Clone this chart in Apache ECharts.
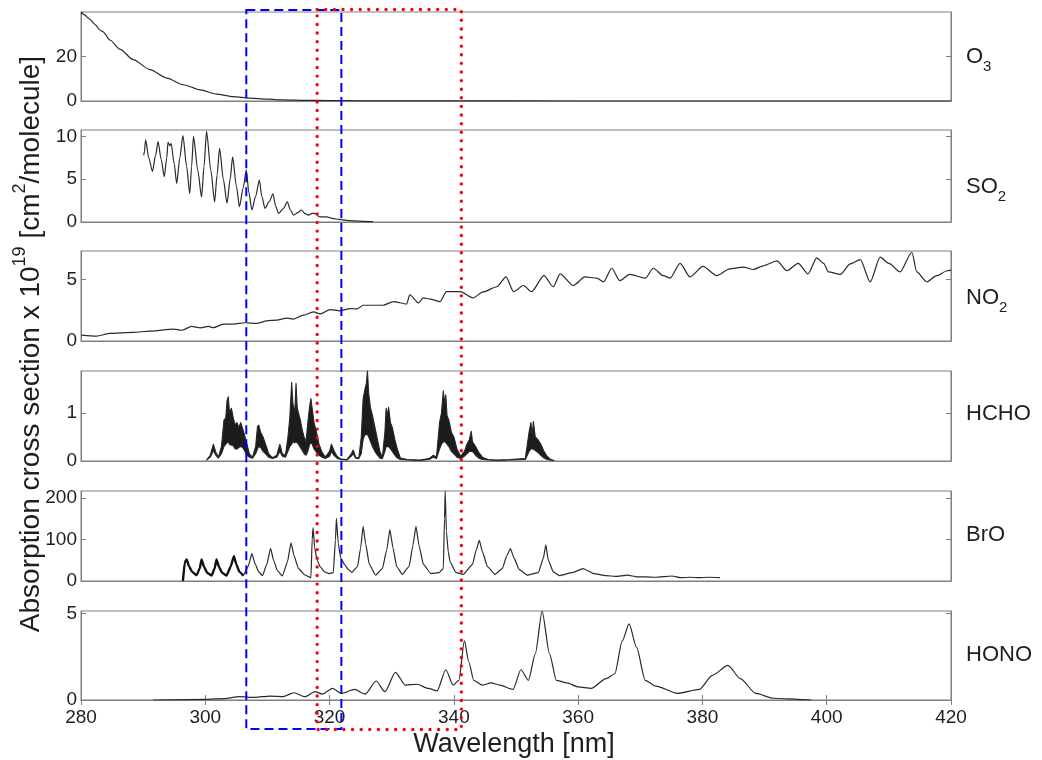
<!DOCTYPE html>
<html><head><meta charset="utf-8">
<script src="https://cdn.jsdelivr.net/npm/echarts@6/dist/echarts.min.js"></script>
<style>html,body{margin:0;padding:0;background:#fff}#c{width:1042px;height:760px}</style>
</head><body><div id="c"></div>
<script>
// ---------------- data ----------------
const xTicks = [280, 300, 320, 340, 360, 380, 400, 420];
const speciesLabels = ['O{sub|3}', 'SO{sub|2}', 'NO{sub|2}', 'HCHO', 'BrO', 'HONO'];
const yTickValues = [[0, 20], [0, 5, 10], [0, 5], [0, 1], [0, 100, 200], [0, 5]];
const yMax = [40, 10.75, 7.3, 1.875, 217, 5.15];
const blueBox = [306.6, 321.9];
const redBox = [318.0, 341.2];

const o3 = [[280,40],[280.5,38.8],[281.4,36.8],[282.2,34.5],[283.1,31.8],[283.5,31.2],[284.7,27.3],[286.3,23.2],[288.4,18.6],[291.1,14.1],[293.8,10.3],[296.5,7.3],[299.2,5.0],[301.8,3.1],[304.5,2.0],[307.2,1.3],[310,0.8],[312.5,0.5],[316,0.3],[320,0.18],[325,0.1],[330,0.06],[340,0.03],[360,0.01],[380,0.005],[420,0.003]];

const so2 = [[290.1,7.8],[290.2,8.2],[290.4,9.6],[290.9,7.5],[291.5,5.9],[292.0,7.8],[292.4,9.4],[292.9,7.3],[293.4,5.3],[293.8,7.5],[294.0,9.3],[294.3,8.9],[294.5,9.2],[295.0,6.8],[295.4,4.5],[295.9,7.5],[296.4,10.1],[297.0,6.5],[297.5,3.3],[297.8,6.5],[298.1,10.0],[298.8,6.0],[299.4,2.9],[299.8,6.5],[300.2,10.6],[300.9,6.0],[301.5,2.35],[301.9,5.5],[302.3,8.6],[302.9,5.0],[303.5,2.2],[304.0,5.0],[304.4,7.6],[305.0,4.2],[305.5,1.8],[306.1,4.0],[306.6,6.1],[307.0,3.5],[307.5,1.4],[308.1,3.0],[308.7,4.9],[309.1,3.0],[309.6,1.6],[310.3,2.4],[310.9,3.3],[311.3,1.9],[311.8,1.0],[312.6,1.6],[313.2,2.35],[313.7,1.4],[314.2,0.8],[314.9,1.1],[315.5,1.4],[316.0,1.0],[316.6,0.8],[317.2,1.0],[317.6,1.0],[318.4,0.6],[319.5,0.6],[320.6,0.4],[321.6,0.3],[322.7,0.2],[324,0.12],[325.5,0.08],[327,0.05]];

const no2 = [[280.1,0.48],[282.5,0.40],[284.7,0.62],[288.4,0.70],[291.1,0.80],[294.9,0.97],[296.2,0.87],[297.8,1.18],[299.2,1.07],[300.5,1.18],[301.3,1.08],[302.9,1.37],[304.5,1.37],[306.4,1.48],[308.3,1.43],[309.9,1.64],[311.5,1.69],[313.1,1.85],[314.2,1.78],[315.8,2.1],[317.4,2.37],[318.5,2.2],[320.1,2.55],[321.7,2.45],[323.3,2.63],[324.4,2.6],[325.4,2.9],[328.6,2.9],[330.3,3.2],[332.4,3.0],[332.9,3.75],[334.3,3.1],[335.1,3.5],[336.2,3.4],[337.8,3.2],[338.8,4.0],[341.0,4.0],[343.1,3.5],[344.7,3.98],[346.9,4.4],[348.4,5.2],[349.6,4.0],[351.2,4.5],[352.5,4.0],[354.5,5.3],[356.0,4.4],[357.1,5.45],[359.2,4.5],[361.1,5.2],[363.0,5.1],[364.1,4.8],[365.4,5.9],[366.7,4.9],[368.3,5.4],[370.8,5.1],[372.1,5.9],[373.7,5.3],[374.8,5.1],[376.4,6.3],[378.0,5.2],[380.1,6.05],[382.3,5.3],[384.4,5.85],[386.6,6.0],[388.2,5.8],[389.8,6.1],[392.0,6.5],[393.6,5.7],[395.4,6.3],[397.0,5.45],[398.4,6.75],[399.5,6.3],[400.3,5.6],[402.2,5.4],[403.8,6.25],[405.4,6.6],[407.0,4.8],[408.6,6.8],[410.0,6.3],[411.8,5.6],[413.7,7.2],[414.5,5.6],[416.1,4.8],[417.7,5.3],[419.4,5.7],[420,5.75]];

const hchoWl   = [300.2,300.8,301.3,301.7,302.1,302.6,303.0,303.3,303.5,303.7,303.9,304.2,304.5,304.8,305.1,305.4,305.7,306.0,306.3,306.7,307.1,307.6,308.1,308.4,308.6,308.9,309.3,309.7,310.2,310.8,311.5,312.0,312.4,312.9,313.3,313.6,313.9,314.1,314.4,314.6,314.8,315.0,315.3,315.6,315.9,316.2,316.5,316.8,317.0,317.2,317.5,317.9,318.3,318.8,319.3,320.0,320.3,320.7,321.2,321.8,322.8,323.5,323.8,324.2,324.7,325.1,325.4,325.7,325.9,326.1,326.3,326.6,326.9,327.3,327.7,328.1,328.5,328.9,329.1,329.3,329.5,329.8,330.1,330.5,330.9,331.4,332.5,334.5,336.0,336.7,337.2,337.7,338.0,338.3,338.5,338.7,338.9,339.2,339.6,340.0,340.5,341.1,341.7,342.1,342.5,342.8,343.0,343.5,344.0,344.6,345.5,347,349,351.5,352.1,352.4,352.6,352.8,353.1,353.5,354.0,354.5,355.0,355.5,356.1];
const hchoLow  = [0.02,0.08,0.22,0.12,0.06,0.15,0.3,0.35,0.38,0.4,0.35,0.33,0.32,0.25,0.25,0.28,0.3,0.28,0.22,0.12,0.08,0.06,0.15,0.25,0.3,0.28,0.2,0.15,0.08,0.05,0.08,0.2,0.1,0.08,0.2,0.3,0.35,0.4,0.38,0.4,0.38,0.35,0.28,0.22,0.15,0.12,0.2,0.35,0.38,0.35,0.25,0.18,0.12,0.08,0.05,0.1,0.2,0.12,0.06,0.03,0.02,0.1,0.15,0.06,0.05,0.15,0.45,0.55,0.55,0.55,0.5,0.4,0.3,0.2,0.12,0.06,0.05,0.2,0.3,0.3,0.3,0.25,0.2,0.12,0.06,0.03,0.02,0.01,0.03,0.08,0.05,0.25,0.35,0.4,0.4,0.38,0.35,0.3,0.2,0.15,0.08,0.05,0.1,0.15,0.2,0.2,0.2,0.12,0.06,0.03,0.02,0.01,0.02,0.03,0.2,0.25,0.25,0.25,0.22,0.18,0.12,0.06,0.03,0.02,0.01];
const hchoHigh = [0.02,0.12,0.35,0.18,0.08,0.3,0.85,0.9,1.25,1.34,1.0,1.1,0.9,0.75,0.8,0.7,0.8,0.68,0.55,0.35,0.15,0.08,0.3,0.72,0.75,0.6,0.5,0.35,0.15,0.07,0.12,0.35,0.15,0.12,0.5,0.9,1.64,1.2,1.0,1.62,1.1,1.0,0.85,0.65,0.5,0.4,0.8,1.15,1.3,1.1,0.8,0.6,0.35,0.18,0.08,0.2,0.35,0.22,0.1,0.04,0.03,0.15,0.23,0.08,0.06,0.5,1.3,1.5,1.6,1.875,1.4,1.1,0.95,0.7,0.45,0.2,0.08,0.6,1.1,0.95,1.12,0.8,0.7,0.45,0.25,0.06,0.03,0.02,0.05,0.12,0.08,0.8,1.0,1.46,1.2,1.38,0.95,0.85,0.6,0.5,0.25,0.1,0.2,0.35,0.45,0.62,0.4,0.3,0.18,0.08,0.03,0.02,0.03,0.05,0.6,0.8,0.55,0.82,0.5,0.45,0.35,0.2,0.1,0.04,0.01];

const bro = [[296.4,0],[296.7,45],[297.0,52],[297.4,35],[297.9,22],[298.6,14],[299.1,30],[299.4,52],[299.8,34],[300.3,20],[301.0,13],[301.5,30],[301.8,52],[302.2,34],[302.7,20],[303.4,13],[304.1,35],[304.6,60],[305.0,40],[305.5,22],[306.1,13],[306.9,35],[307.5,66],[308.0,42],[308.6,22],[309.2,13],[309.9,40],[310.5,79],[311.0,50],[311.6,25],[312.4,12],[313.2,45],[313.8,92],[314.3,60],[315.0,30],[316.0,15],[317.0,8],[317.2,100],[317.35,129],[317.6,80],[318.0,50],[318.5,34],[319.2,22],[319.9,18],[320.6,20],[320.95,100],[321.1,151],[321.4,90],[321.8,55],[322.5,38],[323.0,28],[323.6,21],[324.5,35],[325.0,80],[325.4,132],[325.8,90],[326.4,40],[327.4,14],[328.5,30],[329.2,75],[329.7,124],[330.2,80],[330.8,35],[331.7,16],[332.8,35],[333.4,85],[333.9,132],[334.4,85],[335.1,40],[336.3,18],[337.6,20],[338.3,30],[338.5,150],[338.6,217],[338.8,120],[339.1,70],[339.4,46],[340.3,21],[341.5,16],[343.0,40],[343.6,75],[344.1,98],[344.6,70],[345.4,35],[346.6,16],[347.8,30],[348.5,60],[349.1,78],[349.7,55],[350.5,28],[351.8,14],[353.6,20],[354.4,55],[354.8,87],[355.2,50],[356.0,22],[357.0,13],[359.0,20],[360.8,30],[362.5,18],[364.5,13],[366.0,11],[367.9,14],[369.5,10],[370.8,10],[372.5,9],[375.1,12],[376.5,8],[378,9],[379.4,8],[381,9],[382.8,8]];

const hono = [[291.6,0],[300,0.04],[303,0.08],[305.5,0.19],[308,0.15],[310.4,0.23],[312.5,0.2],[314.3,0.42],[316,0.19],[317.7,0.48],[318.8,0.34],[320.5,0.67],[321.9,0.38],[324.0,0.61],[325.7,0.34],[327.5,1.1],[328.9,0.48],[330.6,1.6],[332.2,0.86],[334.1,0.91],[335.9,0.67],[337.3,0.53],[338.7,1.75],[339.9,0.86],[340.8,1.14],[341.7,3.42],[342.4,2.2],[343.2,1.14],[344.6,0.86],[346.0,0.99],[347.4,0.86],[349.5,0.61],[350.8,1.75],[352.0,1.14],[353.1,2.66],[354.2,5.13],[355.4,2.66],[356.5,1.14],[358.2,0.99],[360.0,0.76],[362.1,0.67],[364.5,1.24],[365.9,1.52],[367.1,3.42],[368.2,4.41],[369.4,3.04],[370.8,1.14],[372.5,0.8],[376.0,0.38],[379.5,0.61],[381.6,1.43],[384.1,2.0],[386.1,1.24],[388.6,0.38],[391.4,0.1],[396.3,0.02],[397.5,0]];

// ---------------- chart ----------------
const chart = echarts.init(document.getElementById('c'), null, {renderer: 'canvas'});
const FONT = '"Liberation Sans", Arial, sans-serif';
const AXIS_COLOR = '#7f7f7f';
const TEXT_COLOR = '#1e1e1e';
const LINE_COLOR = '#2a2a2a';
const tops = [12, 130, 251, 371, 491, 611];
const heights = [89, 92, 90, 90, 90, 89];
const xMin = xTicks[0], xMax = xTicks[xTicks.length - 1], xInt = xTicks[1] - xTicks[0];

const grids = tops.map((t, i) => ({left: 81, right: 91, top: t, height: heights[i], show: true, borderColor: AXIS_COLOR, borderWidth: 1, backgroundColor: 'transparent'}));

const axisLine = {show: true, lineStyle: {color: AXIS_COLOR, width: 1}};
const xAxes = tops.map((t, i) => ({
  gridIndex: i, type: 'value', min: xMin, max: xMax, interval: xInt, position: 'bottom',
  axisLine: axisLine,
  axisTick: {show: i === 5, inside: true, length: 5, lineStyle: {color: AXIS_COLOR}, customValues: xTicks},
  axisLabel: {show: i === 5, fontSize: 19, color: TEXT_COLOR, fontFamily: FONT, margin: 8, customValues: xTicks},
  splitLine: {show: false}
}));
xAxes.push({
  gridIndex: 5, type: 'value', min: xMin, max: xMax, interval: xInt, position: 'top',
  axisLine: axisLine,
  axisTick: {show: true, inside: true, length: 5, lineStyle: {color: AXIS_COLOR}, customValues: xTicks},
  axisLabel: {show: false}, splitLine: {show: false}
});

const yAxes = [];
tops.forEach((t, i) => {
  const tv = yTickValues[i];
  ['left', 'right'].forEach(pos => {
    yAxes.push({
      gridIndex: i, type: 'value', min: 0, max: yMax[i], interval: tv[1] - tv[0], position: pos,
      axisLine: axisLine,
      axisTick: {show: true, inside: true, length: 5, lineStyle: {color: AXIS_COLOR}, customValues: tv},
      axisLabel: {show: pos === 'left', fontSize: 19, color: TEXT_COLOR, fontFamily: FONT, margin: 4, customValues: tv},
      splitLine: {show: false}
    });
  });
});

const lineSeries = (data, i, extra) => Object.assign({
  type: 'line', data: data, xAxisIndex: i, yAxisIndex: 2 * i,
  showSymbol: false, symbol: 'none', smooth: 0.25, smoothMonotone: 'x', animation: false,
  lineStyle: {color: LINE_COLOR, width: 1.2}, itemStyle: {color: LINE_COLOR}, z: 3
}, extra || {});

// HCHO: dense band between lower and upper envelopes, drawn through the axis scale
const hchoBand = {
  type: 'custom', coordinateSystem: 'cartesian2d', xAxisIndex: 3, yAxisIndex: 6, animation: false, z: 3,
  data: hchoWl.map((w, k) => [w, hchoLow[k], hchoHigh[k]]),
  encode: {x: 0, y: [1, 2]},
  renderItem: function (params, api) {
    if (params.dataIndex !== 0) return null;
    const pts = [];
    for (let k = 0; k < hchoWl.length; k++) pts.push(api.coord([hchoWl[k], hchoHigh[k]]));
    for (let k = hchoWl.length - 1; k >= 0; k--) pts.push(api.coord([hchoWl[k], hchoLow[k]]));
    return {
      type: 'polygon', shape: {points: pts},
      style: {fill: '#1c1c1c', stroke: '#262626', lineWidth: 1.1, lineJoin: 'round'}
    };
  }
};

const series = [
  lineSeries(o3, 0),
  lineSeries(so2, 1),
  lineSeries(no2, 2),
  hchoBand,
  lineSeries(bro, 4, {smooth: 0.15}),
  lineSeries(bro.filter(p => p[0] <= 306.2), 4, {smooth: 0.15, lineStyle: {color: '#111', width: 2.4}}),
  lineSeries(hono, 5)
];

const graphics = [];
graphics.push({
  type: 'text', x: 31, y: 344, rotation: Math.PI / 2, z: 10,
  style: {
    text: 'Absorption cross section x 10{sup|19} [cm{sup|2}/molecule]',
    fontSize: 28, fontFamily: FONT, fill: TEXT_COLOR, lineHeight: 40,
    align: 'center', verticalAlign: 'middle',
    rich: {sup: {fontSize: 18, fontFamily: FONT, fill: TEXT_COLOR, lineHeight: 18, verticalAlign: 'top'}}
  }
});
graphics.push({
  type: 'text', x: 514, y: 745, z: 10,
  style: {text: 'Wavelength [nm]', fontSize: 27, fontFamily: FONT, fill: TEXT_COLOR, align: 'center', verticalAlign: 'middle'}
});
const labelY = [57, 187, 298, 414, 535, 655];
speciesLabels.forEach((s, i) => {
  graphics.push({
    type: 'text', x: 966, y: labelY[i], z: 10,
    style: {
      text: s, fontSize: 22, fontFamily: FONT, fill: TEXT_COLOR, lineHeight: 34,
      align: 'left', verticalAlign: 'middle',
      rich: {sub: {fontSize: 15, fontFamily: FONT, fill: TEXT_COLOR, lineHeight: 14, verticalAlign: 'bottom'}}
    }
  });
});

chart.setOption({
  animation: false,
  backgroundColor: '#ffffff',
  grid: grids, xAxis: xAxes, yAxis: yAxes, series: series, graphic: graphics
});

// annotation boxes positioned through the x scale
const px = v => chart.convertToPixel({xAxisIndex: 0}, v);
const boxTop = 10, boxBottom = 729;
graphics.push({
  type: 'rect', z: 20,
  shape: {x: px(blueBox[0]), y: boxTop, width: px(blueBox[1]) - px(blueBox[0]), height: boxBottom - boxTop},
  style: {fill: 'none', stroke: '#0000ff', lineWidth: 2, lineDash: [9, 5]}
});
graphics.push({
  type: 'rect', z: 21,
  shape: {x: px(redBox[0]), y: boxTop - 0.5, width: px(redBox[1]) - px(redBox[0]), height: boxBottom - boxTop + 1},
  style: {fill: 'none', stroke: '#ff0000', lineWidth: 3.4, lineDash: [0.01, 8.6], lineCap: 'round'}
});
chart.setOption({graphic: graphics});
</script></body></html>
